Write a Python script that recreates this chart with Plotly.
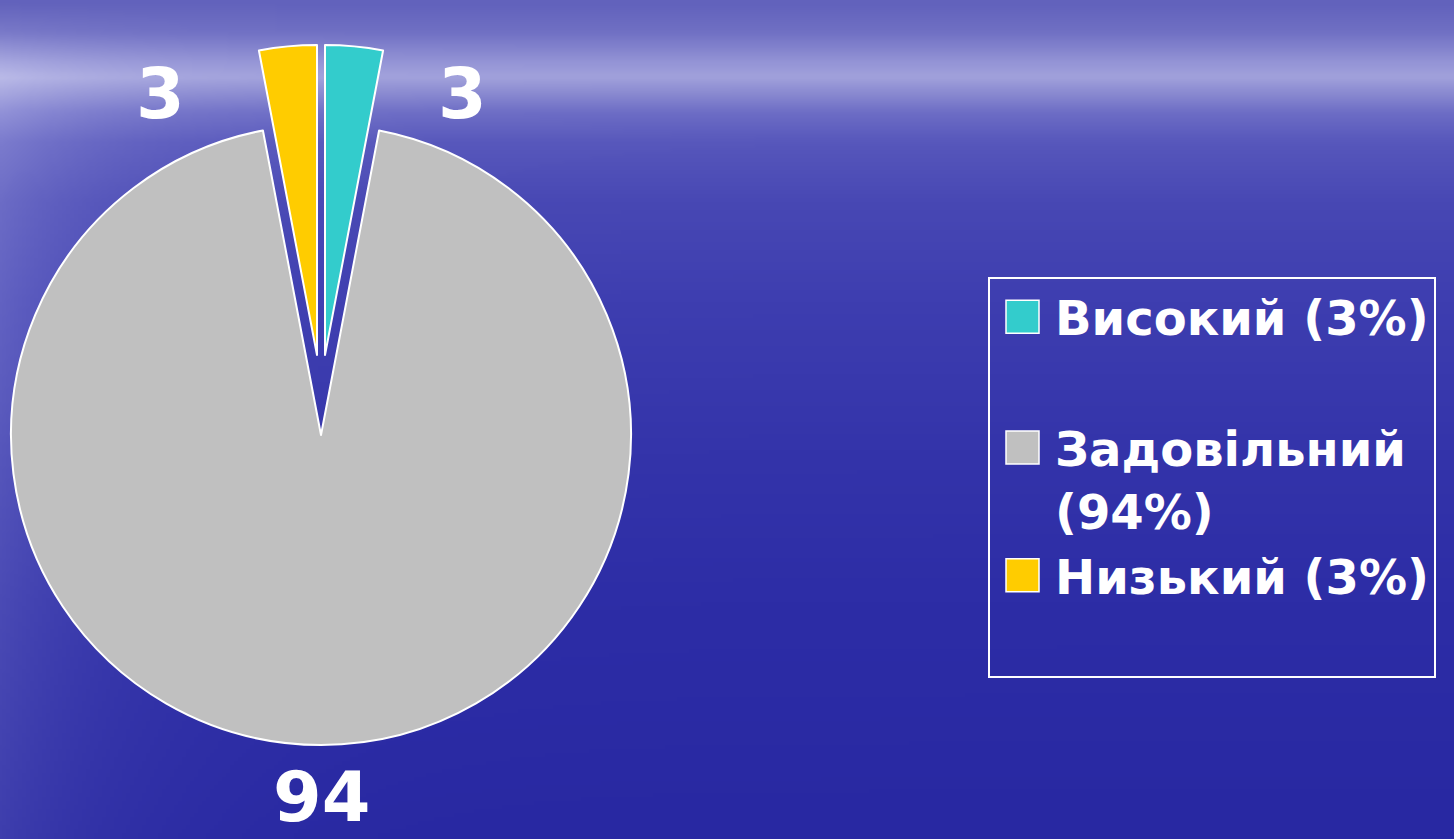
import base64
import math
import struct
import zlib

import plotly.graph_objects as go

# ---------------- data ----------------
categories = ["Високий", "Задовільний", "Низький"]
values = [3, 94, 3]
legend_labels = ["Високий (3%)", "Задовільний<br>(94%)", "Низький (3%)<br> "]
slice_colors = ["#33CCCC", "#C0C0C0", "#FFCC00"]

W, H = 1454, 839
total = sum(values)
FILLER = " "
CLEAR = "rgba(0,0,0,0)"


# ---------------- background (sky / sea gradient) ----------------
def bg_color(px, py):
    stops = [(0, (98, 98, 188)), (30, (112, 112, 196)), (60, (148, 148, 214)),
             (75, (162, 162, 220)), (90, (140, 140, 210)), (110, (110, 110, 198)),
             (140, (88, 88, 188)), (200, (72, 72, 180)), (300, (62, 62, 176)),
             (450, (52, 52, 170)), (600, (45, 45, 166)), (839, (40, 40, 162))]
    for (y0, c0), (y1, c1) in zip(stops[:-1], stops[1:]):
        if y0 <= py <= y1:
            t = (py - y0) / (y1 - y0)
            base = [c0[k] + (c1[k] - c0[k]) * t for k in range(3)]
            break
    else:
        base = list(stops[-1][1])
    lift = (36 if py < 400 else 36 - 14 * (py - 400) / 439) * math.exp(-px / 120)
    if py < 110:
        lift *= py / 110
    return [min(255, int(base[0] + lift)), min(255, int(base[1] + lift)),
            min(255, int(base[2] + lift * 0.5))]


def png_uri(w, h, scale):
    raw = bytearray()
    for j in range(h):
        raw.append(0)
        for i in range(w):
            raw.extend(bg_color(i * scale, j * scale))

    def chunk(tag, data):
        c = struct.pack(">I", len(data)) + tag + data
        return c + struct.pack(">I", zlib.crc32(tag + data) & 0xFFFFFFFF)

    png = (b"\x89PNG\r\n\x1a\n"
           + chunk(b"IHDR", struct.pack(">IIBBBBB", w, h, 8, 2, 0, 0, 0))
           + chunk(b"IDAT", zlib.compress(bytes(raw), 9))
           + chunk(b"IEND", b""))
    return "data:image/png;base64," + base64.b64encode(png).decode()


bg_uri = png_uri(W // 4 + 1, H // 4 + 1, 4)


def dom(cx, cy, r):
    return dict(x=[(cx - r) / W, (cx + r) / W], y=[1 - (cy + r) / H, 1 - (cy - r) / H])


R = 310
# pie centres: first exploded slice, main slice, second exploded slice
centres = [(325, 355), (321, 435), (317, 355)]

fig = go.Figure()
start = 0
for i in range(3):
    v = values[i]
    fig.add_trace(go.Pie(
        labels=[legend_labels[i], FILLER],
        values=[v, total - v],
        sort=False,
        direction="clockwise",
        rotation=360 * start / total,
        marker=dict(colors=[slice_colors[i], CLEAR],
                    line=dict(color=["white", CLEAR], width=2)),
        textinfo="none",
        hoverinfo="none",
        domain=dom(*centres[i], R),
    ))
    start += v

annot_pos = [(462, 94), (321, 797), (160, 94)]
annotations = []
for i in range(3):
    annotations.append(dict(
        x=annot_pos[i][0] / W, y=1 - annot_pos[i][1] / H, xref="paper", yref="paper",
        text=str(values[i]), showarrow=False, xanchor="center", yanchor="middle",
        borderpad=0,
        font=dict(family="DejaVu Sans", size=70, color="white", weight=700),
    ))

fig.update_layout(
    width=W, height=H,
    margin=dict(l=0, r=0, t=0, b=0, pad=0),
    paper_bgcolor="#3a3aaa",
    plot_bgcolor="#3a3aaa",
    images=[dict(source=bg_uri, xref="paper", yref="paper", x=0, y=1, sizex=1, sizey=1,
                 xanchor="left", yanchor="top", sizing="stretch", layer="below")],
    annotations=annotations,
    showlegend=True,
    legend=dict(
        x=988 / W, xanchor="left", y=1 - 277 / H, yanchor="top",
        bgcolor="rgba(0,0,0,0)", bordercolor="white", borderwidth=2,
        font=dict(family="DejaVu Sans", size=48, color="white", weight=700),
        valign="top", itemwidth=55, traceorder="normal",
    ),
)

post = """
document.body.style.margin = '0';
document.body.style.padding = '0';
var gd = document.getElementById('{plot_id}');
gd.querySelectorAll('.legendpoints path').forEach(function(p){
  var t = p.getAttribute('transform') || '';
  p.setAttribute('transform', t + ' scale(2.75)');
  p.style.vectorEffect = 'non-scaling-stroke';
  p.style.strokeWidth = '1.5px';
});
"""

fig.write_html("out.html", post_script=post, config={"displayModeBar": False})
